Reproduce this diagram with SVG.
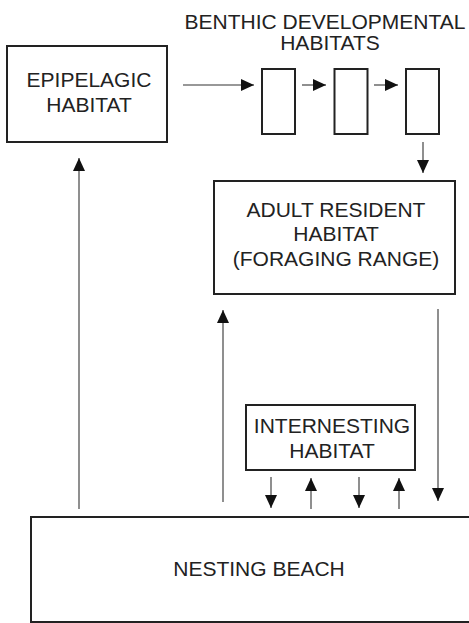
<svg xmlns="http://www.w3.org/2000/svg" width="469" height="623" viewBox="0 0 469 623">
<style>
.box{fill:#fff;stroke:#222;stroke-width:2}
.t{font-family:"Liberation Sans",Arial,sans-serif;font-size:21px;fill:#222;text-anchor:middle}
.c{stroke:#333;stroke-width:1.1;fill:none}
</style>
<defs>
<marker id="ah" viewBox="0 0 13 12" refX="13" refY="6" markerWidth="13" markerHeight="12" markerUnits="userSpaceOnUse" orient="auto">
<path d="M0,0 L13,6 L0,12 Z" fill="#111"/>
</marker>
</defs>
<rect width="469" height="623" fill="#fff"/>
<g id="epipelagic">
<rect class="box" x="7" y="46" width="160" height="96"/>
<text class="t" x="89" y="87">EPIPELAGIC</text>
<text class="t" x="89" y="112">HABITAT</text>
</g>
<g id="benthic">
<text class="t" x="325" y="29">BENTHIC DEVELOPMENTAL</text>
<text class="t" x="330" y="50">HABITATS</text>
<rect class="box" x="262" y="69" width="33" height="65"/>
<rect class="box" x="334.5" y="69" width="33" height="65"/>
<rect class="box" x="406" y="69" width="33" height="65"/>
</g>
<g id="adult">
<rect class="box" x="214" y="181" width="241" height="113"/>
<text class="t" x="336" y="217">ADULT RESIDENT</text>
<text class="t" x="336" y="241">HABITAT</text>
<text class="t" x="336" y="266">(FORAGING RANGE)</text>
</g>
<g id="internesting">
<rect class="box" x="246" y="405" width="169" height="65"/>
<text class="t" x="332" y="433">INTERNESTING</text>
<text class="t" x="332" y="458">HABITAT</text>
</g>
<g id="nesting">
<rect class="box" x="31" y="517" width="450" height="105"/>
<text class="t" x="259" y="576">NESTING BEACH</text>
</g>
<g id="connectors">
<line class="c" x1="183" y1="85" x2="254" y2="85" marker-end="url(#ah)"/>
<line class="c" x1="302" y1="85" x2="326" y2="85" marker-end="url(#ah)"/>
<line class="c" x1="374" y1="85" x2="398" y2="85" marker-end="url(#ah)"/>
<line class="c" x1="423" y1="142" x2="423" y2="173" marker-end="url(#ah)"/>
<line class="c" x1="79" y1="509" x2="79" y2="158" marker-end="url(#ah)"/>
<line class="c" x1="223" y1="502" x2="223" y2="310" marker-end="url(#ah)"/>
<line class="c" x1="438" y1="309" x2="438" y2="501" marker-end="url(#ah)"/>
<line class="c" x1="271" y1="477" x2="271" y2="508" marker-end="url(#ah)"/>
<line class="c" x1="311" y1="509" x2="311" y2="478" marker-end="url(#ah)"/>
<line class="c" x1="359" y1="477" x2="359" y2="508" marker-end="url(#ah)"/>
<line class="c" x1="399" y1="509" x2="399" y2="478" marker-end="url(#ah)"/>
</g>
</svg>
